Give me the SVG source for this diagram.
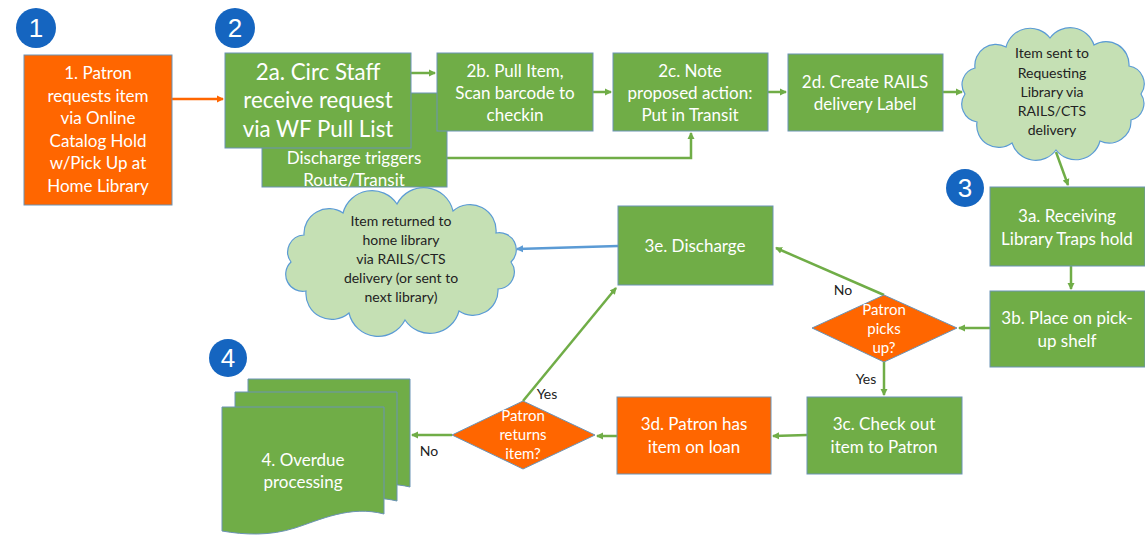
<svg xmlns="http://www.w3.org/2000/svg" width="1145" height="537" viewBox="0 0 1145 537">
<defs>
<style>
.g{fill:#70AD47;stroke:#6b93b5;stroke-width:1}
.o{fill:#FF6600;stroke:#6b93b5;stroke-width:1}
.cl{fill:#C5E0B4;stroke:#5B9BD5;stroke-width:1.2}
.num{fill:#1565C0}
.numt{font-family:"Liberation Sans",Arial,sans-serif;font-size:26px;fill:#fff;text-anchor:middle}
.t{font-family:Lato,"Open Sans",sans-serif;font-size:17px;fill:#fff;text-anchor:middle}
.tb{font-family:Lato,"Open Sans",sans-serif;font-size:22.3px;fill:#fff;text-anchor:middle}
.td{font-family:Lato,"Open Sans",sans-serif;font-size:15px;fill:#fff;text-anchor:middle}
.tc{font-family:Lato,"Open Sans",sans-serif;font-size:14px;fill:#222;text-anchor:middle}
.lb{font-family:Lato,"Open Sans",sans-serif;font-size:14px;fill:#222;text-anchor:middle}
.c{fill:none;stroke:#70AD47;stroke-width:2.5}
</style>
<marker id="ag" markerWidth="8" markerHeight="8" refX="6" refY="4" orient="auto" markerUnits="userSpaceOnUse"><path d="M0,0.5 L7,4 L0,7.5 Z" fill="#70AD47"/></marker>
<marker id="ao" markerWidth="8" markerHeight="8" refX="6" refY="4" orient="auto" markerUnits="userSpaceOnUse"><path d="M0,0.5 L7,4 L0,7.5 Z" fill="#FF6600"/></marker>
<marker id="ab" markerWidth="8" markerHeight="8" refX="6" refY="4" orient="auto" markerUnits="userSpaceOnUse"><path d="M0,0.5 L7,4 L0,7.5 Z" fill="#5B9BD5"/></marker>
</defs>
<rect width="1145" height="537" fill="#fff"/>

<g id="badges">
<circle class="num" cx="36" cy="28" r="20"/><text class="numt" x="36" y="37">1</text>
<circle class="num" cx="235" cy="28" r="20"/><text class="numt" x="235" y="37">2</text>
<circle class="num" cx="965" cy="188" r="19"/><text class="numt" x="965" y="197">3</text>
<circle class="num" cx="228" cy="358" r="19"/><text class="numt" x="228" y="367">4</text>
</g>

<g id="connectors">
<line x1="172" y1="99" x2="223" y2="99" stroke="#FF6600" stroke-width="2.5" marker-end="url(#ao)"/>
<line class="c" x1="411" y1="73" x2="435" y2="73" marker-end="url(#ag)"/>
<polyline class="c" points="447,158 691,158 691,133" marker-end="url(#ag)"/>
<line class="c" x1="593" y1="92" x2="611" y2="92" marker-end="url(#ag)"/>
<line class="c" x1="768" y1="92" x2="786" y2="92" marker-end="url(#ag)"/>
<line class="c" x1="943" y1="92" x2="962" y2="92" marker-end="url(#ag)"/>
<line class="c" x1="1056" y1="152" x2="1068" y2="185" marker-end="url(#ag)"/>
<line class="c" x1="1071" y1="266" x2="1071" y2="289" marker-end="url(#ag)"/>
<line class="c" x1="990" y1="328" x2="959" y2="328" marker-end="url(#ag)"/>
<line class="c" x1="884" y1="295" x2="776" y2="248" marker-end="url(#ag)"/>
<line class="c" x1="884" y1="362" x2="884" y2="395" marker-end="url(#ag)"/>
<line class="c" x1="807" y1="435" x2="773" y2="436" marker-end="url(#ag)"/>
<line class="c" x1="617" y1="436" x2="597" y2="436" marker-end="url(#ag)"/>
<line class="c" x1="523" y1="401" x2="616" y2="288" marker-end="url(#ag)"/>
<line class="c" x1="452" y1="435" x2="412" y2="435" marker-end="url(#ag)"/>
<line x1="618" y1="246" x2="517" y2="249" stroke="#5B9BD5" stroke-width="2.5" marker-end="url(#ab)"/>
<text class="lb" x="843" y="295">No</text>
<text class="lb" x="866" y="384">Yes</text>
<text class="lb" x="547" y="399">Yes</text>
<text class="lb" x="429" y="456">No</text>
</g>

<g id="n1">
<rect class="o" x="24" y="55" width="148" height="150"/>
<text class="t" x="98" y="79">1. Patron</text>
<text class="t" x="98" y="102">requests item</text>
<text class="t" x="98" y="124">via Online</text>
<text class="t" x="98" y="147">Catalog Hold</text>
<text class="t" x="98" y="169">w/Pick Up at</text>
<text class="t" x="98" y="192">Home Library</text>
</g>

<g id="n2discharge">
<rect class="g" x="262" y="93" width="185" height="94"/>
<text class="t" x="354" y="164">Discharge triggers</text>
<text class="t" x="354" y="186">Route/Transit</text>
</g>

<g id="n2a">
<rect class="g" x="225" y="53" width="186" height="95"/>
<text class="tb" x="318" y="80">2a. Circ Staff</text>
<text class="tb" x="318" y="108">receive request</text>
<text class="tb" x="318" y="137">via WF Pull List</text>
</g>

<g id="n2b">
<rect class="g" x="437" y="53" width="156" height="78"/>
<text class="t" x="515" y="77">2b. Pull Item,</text>
<text class="t" x="515" y="99">Scan barcode to</text>
<text class="t" x="515" y="121">checkin</text>
</g>

<g id="n2c">
<rect class="g" x="613" y="53" width="155" height="78"/>
<text class="t" x="690" y="77">2c. Note</text>
<text class="t" x="690" y="99">proposed action:</text>
<text class="t" x="690" y="121">Put in Transit</text>
</g>

<g id="n2d">
<rect class="g" x="788" y="54" width="155" height="77"/>
<text class="t" x="865" y="88">2d. Create RAILS</text>
<text class="t" x="865" y="110">delivery Label</text>
</g>

<g id="cloud1">
<path class="cl" d="M1141,94 A17,17 0 0 1 1131,120 A22,22 0 0 1 1100,141 A25,25 0 0 1 1056,150 A25,25 0 0 1 1012,143 A22,22 0 0 1 977,122 A18,18 0 0 1 965,94 A17,17 0 0 1 975,68 A21,21 0 0 1 1006,47 A25,25 0 0 1 1050,38 A25,25 0 0 1 1094,45 A23,23 0 0 1 1129,66 A18,18 0 0 1 1141,94 Z"/>
<text class="tc" x="1052" y="58">Item sent to</text>
<text class="tc" x="1052" y="78">Requesting</text>
<text class="tc" x="1052" y="97">Library via</text>
<text class="tc" x="1052" y="116">RAILS/CTS</text>
<text class="tc" x="1052" y="135">delivery</text>
</g>

<g id="n3a">
<rect class="g" x="990" y="187" width="155" height="79"/>
<text class="t" x="1067" y="222">3a. Receiving</text>
<text class="t" x="1067" y="245">Library Traps hold</text>
</g>

<g id="n3b">
<rect class="g" x="990" y="291" width="155" height="76"/>
<text class="t" x="1067" y="324">3b. Place on pick-</text>
<text class="t" x="1067" y="347">up shelf</text>
</g>

<g id="d1">
<polygon class="o" points="884,295 957,328 884,362 812,328"/>
<text class="td" x="884" y="315">Patron</text>
<text class="td" x="884" y="334">picks</text>
<text class="td" x="884" y="353">up?</text>
</g>

<g id="n3c">
<rect class="g" x="807" y="397" width="155" height="77"/>
<text class="t" x="884" y="430">3c. Check out</text>
<text class="t" x="884" y="453">item to Patron</text>
</g>

<g id="n3d">
<rect class="o" x="617" y="397" width="154" height="77"/>
<text class="t" x="694" y="430">3d. Patron has</text>
<text class="t" x="694" y="453">item on loan</text>
</g>

<g id="d2">
<polygon class="o" points="523,401 595,435 523,469 452,435"/>
<text class="td" x="523" y="421">Patron</text>
<text class="td" x="523" y="440">returns</text>
<text class="td" x="523" y="459">item?</text>
</g>

<g id="n3e">
<rect class="g" x="618" y="206" width="155" height="79"/>
<text class="t" x="695" y="252">3e. Discharge</text>
</g>

<g id="cloud2">
<path class="cl" d="M511,262 A17,17 0 0 1 498,289 A25,25 0 0 1 459,311 A30,30 0 0 1 405,320 A30,30 0 0 1 349,313 A26,26 0 0 1 306,291 A17,17 0 0 1 291,262 A17,17 0 0 1 304,235 A25,25 0 0 1 343,213 A30,30 0 0 1 397,204 A30,30 0 0 1 453,211 A26,26 0 0 1 496,233 A17,17 0 0 1 511,262 Z"/>
<text class="tc" x="401" y="226">Item returned to</text>
<text class="tc" x="401" y="245">home library</text>
<text class="tc" x="401" y="264">via RAILS/CTS</text>
<text class="tc" x="401" y="283">delivery (or sent to</text>
<text class="tc" x="401" y="302">next library)</text>
</g>

<g id="n4">
<path class="g" d="M248,379 H410 V487 C380,480 360,488 340,490 L248,490 Z"/>
<path class="g" d="M235,392 H397 V501 C367,494 347,502 327,504 L235,504 Z"/>
<path class="g" d="M222,407 H384 V514 C350,505 320,520 295,528 C270,536 245,535 222,531 Z"/>
<text class="t" x="303" y="466">4. Overdue</text>
<text class="t" x="303" y="488">processing</text>
</g>
</svg>
